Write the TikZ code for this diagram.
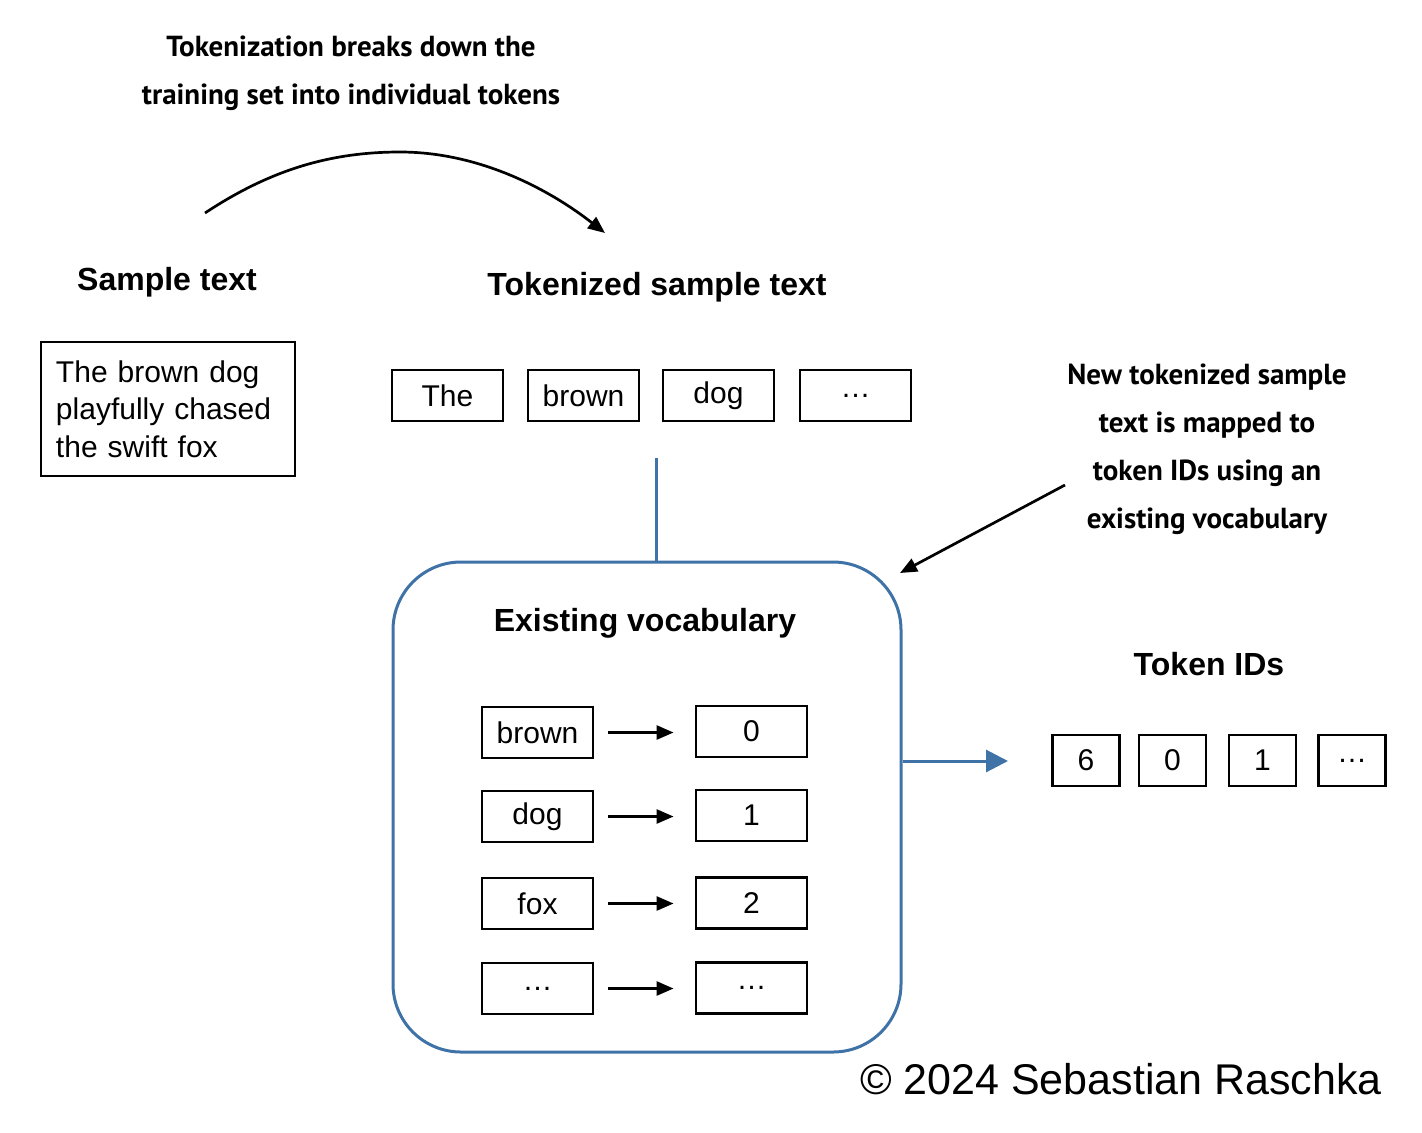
\documentclass[tikz,border=0pt]{standalone}
\usepackage{fontspec}
\setmainfont{Liberation Sans}
\newfontfamily\annfont{PT Sans}
\usetikzlibrary{arrows.meta}
\definecolor{vblue}{HTML}{3F72A6}
\begin{document}
\begin{tikzpicture}[x=1bp,y=-1bp,
  box/.style={draw=black, line width=2.9bp, minimum width=111bp, minimum height=51bp, inner sep=0pt, font=\fontsize{30bp}{36bp}\selectfont},
  idbox/.style={box, minimum width=67bp},
  head/.style={font=\bfseries\fontsize{32bp}{38bp}\selectfont, inner sep=0pt},
  ann/.style={font=\annfont\bfseries\fontsize{29bp}{48bp}\selectfont, align=center, inner sep=0pt},
  arr/.style={line width=2.7bp, -{Triangle[length=17bp,width=14bp]}},
  bluelink/.style={draw=vblue, line width=3bp}
]
\useasboundingbox (0,0) rectangle (1422,1132);

% top annotation and curved arrow
\node[ann] (annTop) at (351,73) {Tokenization breaks down the\\training set into individual tokens};
\coordinate (curveStart) at (205,213);
\coordinate (curveMid) at (400,152);
\coordinate (curveEnd) at (605,233);
\draw[arr] (curveStart) .. controls (270,170) and (330,152) .. (curveMid)
  .. controls (480,152) and (550,190) .. (curveEnd);

% headings
\node[head] (hSample) at (167,282) {Sample text};
\node[head] (hTok) at (657,287) {Tokenized sample text};

% sample text box
\node[draw=black, line width=2.9bp, minimum width=254bp, minimum height=134bp,
  text width=224bp, inner xsep=15bp, inner ysep=0pt, align=left,
  font=\fontsize{30bp}{37.5bp}\selectfont] (sample) at (168,409)
  {The brown dog\\playfully chased\\the swift fox};

% tokenized boxes
\node[box] (tThe) at (447.5,395.5) {The};
\node[box] (tBrown) at (583.5,395.5) {brown};
\node[box] (tDog) at (718.5,395.5) {dog};
\node[box] (tDots) at (855.5,395.5) {\dots};

% existing vocabulary
\node[bluelink, rounded corners=68bp, minimum width=508bp, minimum height=490bp] (vocab) at (647,807) {};
\node[head] (hVocab) at (645,623) {Existing vocabulary};
\coordinate (tokDown) at (656,458);
\draw[bluelink] (tokDown) -- (tokDown |- vocab.north);

\node[box] (w1) at (537.5,732.5) {brown};
\node[box] (w2) at (537.5,816.5) {dog};
\node[box] (w3) at (537.5,903.5) {fox};
\node[box] (w4) at (537.5,988.5) {\dots};
\node[box] (n1) at (751.5,731.5) {0};
\node[box] (n2) at (751.5,815.5) {1};
\node[box] (n3) at (751.5,903) {2};
\node[box] (n4) at (751.5,988) {\dots};
\foreach \i in {1,...,4}{
  \draw[arr, shorten <=14bp, shorten >=21bp] (w\i.east) -- (w\i.east -| n\i.west);
}

% right annotation
\node[ann] (annRight) at (1207,449) {New tokenized sample\\text is mapped to\\token IDs using an\\existing vocabulary};
\coordinate (annArrStart) at (1065,485);
\coordinate (annArrEnd) at (900,573);
\draw[arr] (annArrStart) -- (annArrEnd);

% token IDs
\node[head] (hIDs) at (1209,664) {Token IDs};
\node[idbox] (id1) at (1086,760.5) {6};
\node[idbox] (id2) at (1172.5,760.5) {0};
\node[idbox] (id3) at (1262.5,760.5) {1};
\node[idbox] (id4) at (1352,760.5) {\dots};
\coordinate (idsIn) at (1008,761);
\draw[bluelink, -{Triangle[length=22bp,width=22bp]}] (vocab.east |- idsIn) -- (idsIn);

% copyright
\node[anchor=east, inner sep=0pt, font=\fontsize{43bp}{50bp}\selectfont] (copy) at (1382,1079) {\textcopyright{} 2024 Sebastian Raschka};
\end{tikzpicture}
\end{document}
